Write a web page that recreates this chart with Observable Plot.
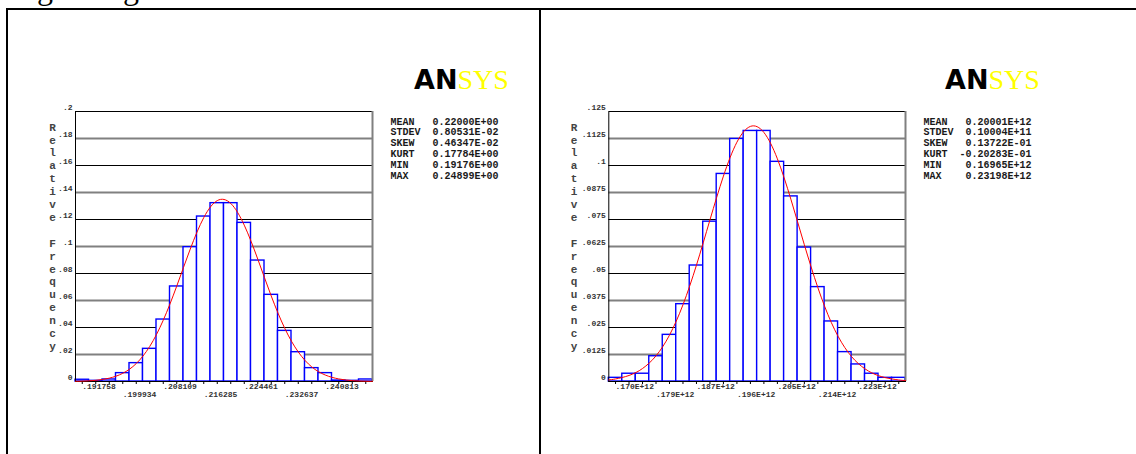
<!DOCTYPE html>
<html><head><meta charset="utf-8">
<script src="https://cdn.jsdelivr.net/npm/d3@7"></script>
<script src="https://cdn.jsdelivr.net/npm/@observablehq/plot@0.6"></script>
<style>
html,body{margin:0;padding:0;background:#fff;}
body{width:1136px;height:454px;overflow:hidden;position:relative;}
#lead{position:absolute;left:-4px;top:-30px;font-size:32px;font-family:"Liberation Serif",serif;white-space:nowrap;color:#000;}
#table{position:absolute;left:6px;top:8px;width:1150px;height:470px;border-left:2px solid #000;border-top:2px solid #000;box-sizing:border-box;}
#divider{position:absolute;left:539px;top:8px;width:2px;height:470px;background:#000;}
#p1{position:absolute;left:0;top:0;}
#p2{position:absolute;left:540px;top:0;}
svg{background:transparent;}
</style></head>
<body>
<div id="lead">long enough.</div>
<div id="p1"></div>
<div id="p2"></div>
<div id="table"></div>
<div id="divider"></div>
<script>
// ---- Left histogram ----
const leftValues = [0.0013, 0.0005, 0.0015, 0.0062, 0.0136, 0.0242, 0.0459, 0.0704, 0.0995, 0.1222, 0.1321,
                    0.1321, 0.1175, 0.0896, 0.0642, 0.0375, 0.0217, 0.0099, 0.0062, 0.0007, 0.0005, 0.0015];
const leftCurveBins = [-0.5, 0, 1, 2, 3, 4, 5, 6, 7, 8, 9, 10, 11, 12, 13, 14, 15, 16, 17, 18, 19, 20, 21, 21.5];
const leftCurve = [0.00016, 0.00029, 0.00089, 0.00246, 0.00606, 0.0133, 0.0260, 0.0454, 0.0707, 0.0981, 0.1214, 0.1340,
                   0.1319, 0.1158, 0.0907, 0.0633, 0.0394, 0.0219, 0.0108, 0.0048, 0.0019, 0.00066, 0.00021, 0.00011];
const leftXLabels = [".191758", ".199934", ".208109", ".216285", ".224461", ".232637", ".240813"];
const leftXLabelBins = [0, 3, 6, 9, 12, 15, 18];
const leftYTicks = [0, 0.02, 0.04, 0.06, 0.08, 0.1, 0.12, 0.14, 0.16, 0.18, 0.2];
const leftYLabels = ["0", ".02", ".04", ".06", ".08", ".1", ".12", ".14", ".16", ".18", ".2"];
const leftStatNames = ["MEAN", "STDEV", "SKEW", "KURT", "MIN", "MAX"];
const leftStatValues = ["0.22000E+00", "0.80531E-02", "0.46347E-02", "0.17784E+00", "0.19176E+00", "0.24899E+00"];

// ---- Right histogram ----
const rightValues = [0.0017, 0.0036, 0.0036, 0.0117, 0.0216, 0.0358, 0.0537, 0.0740, 0.0961, 0.1123, 0.1160,
                     0.1160, 0.1017, 0.0857, 0.0620, 0.0437, 0.0278, 0.0136, 0.0079, 0.0036, 0.0017, 0.0017];
const rightCurveBins = [-0.5, 0, 1, 2, 3, 4, 5, 6, 7, 8, 9, 10, 11, 12, 13, 14, 15, 16, 17, 18, 19, 20, 21, 21.5];
const rightCurve = [0.00075, 0.00118, 0.00279, 0.00601, 0.01187, 0.02146, 0.03553, 0.05387, 0.0748, 0.0951, 0.1108, 0.1181,
                    0.1153, 0.1031, 0.0844, 0.0633, 0.0435, 0.0273, 0.0157, 0.0083, 0.0040, 0.0018, 0.00072, 0.00044];
const rightXLabels = [".170E+12", ".179E+12", ".187E+12", ".196E+12", ".205E+12", ".214E+12", ".223E+12"];
const rightXLabelBins = [0, 3, 6, 9, 12, 15, 18];
const rightYTicks = [0, 0.0125, 0.025, 0.0375, 0.05, 0.0625, 0.075, 0.0875, 0.1, 0.1125, 0.125];
const rightYLabels = ["0", ".0125", ".025", ".0375", ".05", ".0625", ".075", ".0875", ".1", ".1125", ".125"];
const rightStatNames = ["MEAN", "STDEV", "SKEW", "KURT", "MIN", "MAX"];
const rightStatValues = ["0.20001E+12", "0.10004E+11", "0.13722E-01", "-0.20283E-01", "0.16965E+12", "0.23198E+12"];

const yTitle = "Relative Frequency";

const MONO = "'Liberation Mono', 'DejaVu Sans Mono', monospace";

function panel(cfg) {
  const n = cfg.values.length;
  const yMax = cfg.yTicks[cfg.yTicks.length - 1];
  const bins = cfg.values.map((v, i) => ({x1: i - 0.5, x2: i + 0.5, y: v}));
  const grid = cfg.yTicks.map((t, i) => ({t, i})).filter(d => d.t > 0 && d.t < yMax);
  const yLab = cfg.yTicks.map((t, i) => ({t, label: cfg.yLabels[i]}));
  const xLab = cfg.xLabelBins.map((b, i) => ({b, label: cfg.xLabels[i], row: i % 2}));
  const curve = cfg.curveBins.map((b, i) => ({b, v: cfg.curve[i]}));
  const tickLen = yMax * 3 / 270;
  const stats = cfg.statNames.map((s, i) => ({s, v: cfg.statValues[i], i}));
  const titleText = yTitle.split("").join("\n");
  const statMarks = [];
  stats.forEach(d => {
    statMarks.push(Plot.text([d.s], {frameAnchor: "top-left", text: t => t, dx: cfg.statsDx, dy: 6 + d.i * 10.8,
      textAnchor: "start", fontFamily: MONO, fontSize: 10, fontWeight: "bold", fill: "#1a1a1a"}));
    statMarks.push(Plot.text([d.v], {frameAnchor: "top-left", text: t => t, dx: cfg.statsDx + 108, dy: 6 + d.i * 10.8,
      textAnchor: "end", fontFamily: MONO, fontSize: 10, fontWeight: "bold", fill: "#1a1a1a"}));
  });
  return Plot.plot({
    width: cfg.width, height: 420,
    marginLeft: cfg.marginLeft, marginRight: cfg.marginRight, marginTop: 111, marginBottom: 39,
    x: {domain: [-0.5, n - 0.5], axis: null},
    y: {domain: [0, yMax], axis: null},
    style: {background: "transparent", overflow: "visible"},
    marks: [
      Plot.ruleY(grid.filter(d => d.i % 2 === 0), {y: "t", stroke: "#000", strokeWidth: 1}),
      Plot.ruleY(grid.filter(d => d.i % 2 === 1), {y: "t", stroke: "#808080", strokeWidth: 2}),
      Plot.rectY(bins, {x1: "x1", x2: "x2", y: "y", fill: "#fff", stroke: "#0000ff", strokeWidth: 1.4}),
      Plot.frame({stroke: "#000", strokeWidth: 1}),
      Plot.ruleX([n - 0.5], {stroke: "#808080", strokeWidth: 2}),
      Plot.ruleY([0], {stroke: "#000", strokeWidth: 1.2}),
      Plot.ruleX(d3.range(n), {x: d => d, y1: 0, y2: -tickLen, stroke: "#000"}),
      Plot.line(curve, {x: "b", y: "v", stroke: "#ff0000", strokeWidth: 1, curve: "natural"}),
      Plot.text(yLab, {x: -0.5, y: "t", text: "label", textAnchor: "end", dx: -3, dy: -4,
        fontFamily: MONO, fontSize: 8, fontWeight: "bold", fill: "#333"}),
      Plot.text(xLab.filter(d => d.row === 0), {x: "b", y: 0, text: "label", textAnchor: "start", dy: 5,
        fontFamily: MONO, fontSize: 8, fontWeight: "bold", fill: "#333"}),
      Plot.text(xLab.filter(d => d.row === 1), {x: "b", y: 0, text: "label", textAnchor: "start", dy: 13,
        fontFamily: MONO, fontSize: 8, fontWeight: "bold", fill: "#333"}),
      Plot.text([titleText], {frameAnchor: "top-left", text: t => t, dx: cfg.titleDx, dy: 10, lineAnchor: "top",
        lineHeight: 12.9 / 11, textAnchor: "middle", fontFamily: MONO, fontSize: 11, fontWeight: "bold", fill: "#444"}),
      Plot.text(["AN"], {frameAnchor: "top-left", text: t => t, dx: cfg.logoDx, dy: -23, lineAnchor: "bottom",
        textAnchor: "end", fontFamily: "'DejaVu Sans', sans-serif", fontWeight: "bold", fontSize: 27, fill: "#000"}),
      Plot.text(["SYS"], {frameAnchor: "top-left", text: t => t, dx: cfg.logoDx, dy: -23, lineAnchor: "bottom",
        textAnchor: "start", fontFamily: "'Liberation Serif', serif", fontSize: 28, fill: "#ffff00"}),
      ...statMarks
    ]
  });
}

document.getElementById("p1").appendChild(panel({
  values: leftValues, curve: leftCurve, curveBins: leftCurveBins,
  xLabels: leftXLabels, xLabelBins: leftXLabelBins, yTicks: leftYTicks, yLabels: leftYLabels,
  statNames: leftStatNames, statValues: leftStatValues,
  width: 540, marginLeft: 75, marginRight: 168, titleDx: -23, logoDx: 382, statsDx: 315
}));
document.getElementById("p2").appendChild(panel({
  values: rightValues, curve: rightCurve, curveBins: rightCurveBins,
  xLabels: rightXLabels, xLabelBins: rightXLabelBins, yTicks: rightYTicks, yLabels: rightYLabels,
  statNames: rightStatNames, statValues: rightStatValues,
  width: 596, marginLeft: 68.3, marginRight: 231, titleDx: -34.8, logoDx: 379.7, statsDx: 314.7
}));
</script>
</body></html>
